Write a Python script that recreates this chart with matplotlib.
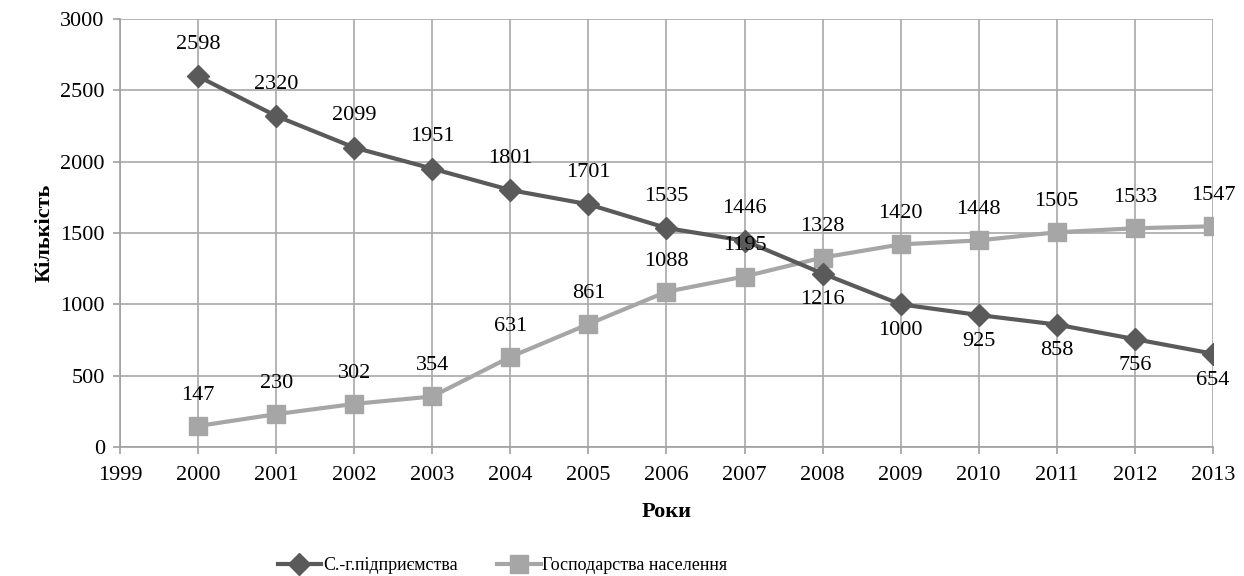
import numpy as np
import matplotlib
matplotlib.use('Agg')
import matplotlib.pyplot as plt

plt.rcParams['font.family'] = ['Liberation Serif', 'DejaVu Serif']

# ── Дані ──────────────────────────────────────────────────────────────
years = [2000, 2001, 2002, 2003, 2004, 2005, 2006,
         2007, 2008, 2009, 2010, 2011, 2012, 2013]
enterprises = [2598, 2320, 2099, 1951, 1801, 1701, 1535,
               1446, 1216, 1000, 925, 858, 756, 654]
households = [147, 230, 302, 354, 631, 861, 1088,
              1195, 1328, 1420, 1448, 1505, 1533, 1547]
name_ent = 'С.-г.підприємства'
name_hh = 'Господарства населення'

# розміщення підписів: 1 = над точкою, -1 = під точкою
pos_ent = [1] * 8 + [-1] * 6
pos_hh = [1] * 14

dark = '#5a5a5a'
light = '#a6a6a6'

fig = plt.figure(figsize=(12.44, 5.76), dpi=100)
ax = fig.add_axes([0.0965, 0.224, 0.8785, 0.743])

ax.plot(years, enterprises, '-D', color=dark, lw=3, ms=11,
        label=name_ent, zorder=4)
ax.plot(years, households, '-s', color=light, lw=3, ms=13,
        label=name_hh, zorder=3)

for x, y, p in zip(years, enterprises, pos_ent):
    off = 23 if p > 0 else -19
    ax.annotate(str(y), (x, y), xytext=(0, off), textcoords='offset points',
                ha='center', va='center', fontsize=16, color='black', zorder=6)
for x, y, p in zip(years, households, pos_hh):
    ax.annotate(str(y), (x, y), xytext=(0, 22 * p), textcoords='offset points',
                ha='center', va='center', fontsize=16, color='black', zorder=6)

ax.set_xlim(1999, 2013)
ax.set_ylim(0, 3000)
ax.set_xticks(range(1999, 2014))
ax.set_yticks(range(0, 3001, 500))
ax.grid(True, color='#a8a8a8', lw=1.2)
ax.set_axisbelow(True)
for s in ['top', 'right']:
    ax.spines[s].set_visible(False)
for s in ['left', 'bottom']:
    ax.spines[s].set_color('#a0a0a0')
    ax.spines[s].set_linewidth(1.2)
ax.tick_params(axis='both', labelsize=16, color='#a0a0a0', length=5, width=1.2)
ax.tick_params(axis='x', pad=9)
ax.tick_params(axis='y', pad=6)

ax.set_xlabel('Роки', fontsize=16, fontweight='bold', labelpad=12)
ax.set_ylabel('Кількість', fontsize=16, fontweight='bold', labelpad=4)

fig.legend(loc='lower center', bbox_to_anchor=(0.404, -0.025), ncol=2,
           frameon=False, fontsize=13, handlelength=2.4, columnspacing=2.2,
           handletextpad=0.1)

plt.savefig('out.png', dpi=100, facecolor='white')
